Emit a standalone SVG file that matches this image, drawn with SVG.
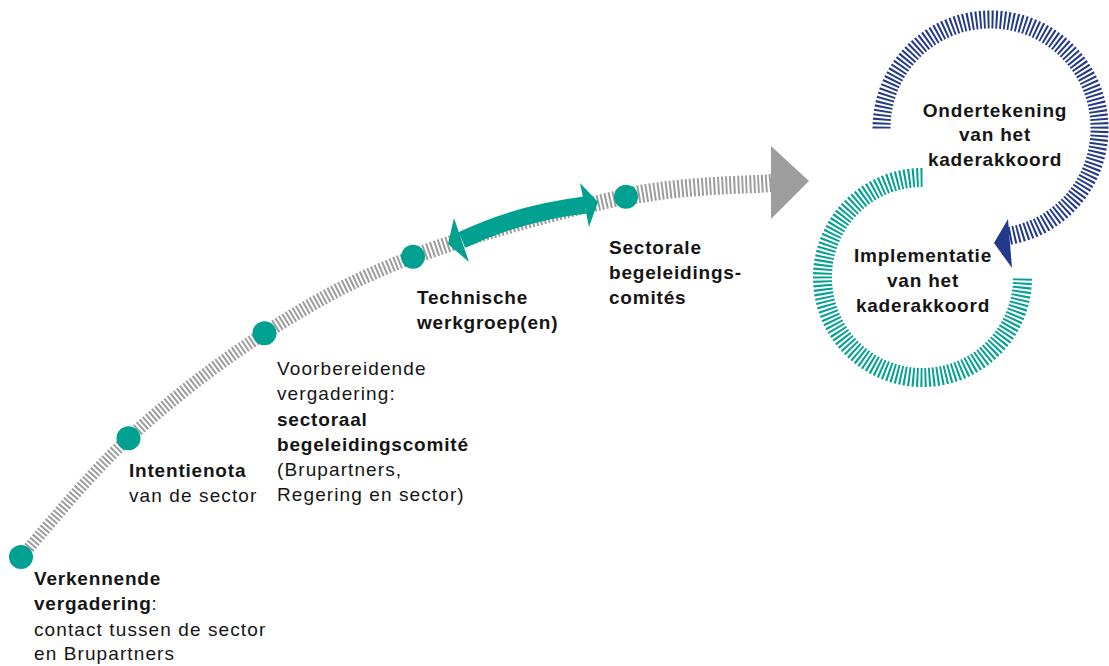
<svg xmlns="http://www.w3.org/2000/svg" width="1109" height="666" viewBox="0 0 1109 666">
<style>
.bg{fill:#ffffff}
.track{fill:none;stroke:#9d9d9d;stroke-dasharray:2 2}
.dot{fill:#00a190}
.t{font-family:"Liberation Sans",Arial,sans-serif;font-size:19px;fill:#151515;letter-spacing:1.1px}
.b{font-weight:700;letter-spacing:0.8px}
.c{text-anchor:middle}
.navy{fill:none;stroke:#233a8b;stroke-width:18;stroke-dasharray:2 2.1}
.teal{fill:none;stroke:#00a190;stroke-width:19;stroke-dasharray:2 2.1}
</style>
<rect class="bg" x="0" y="0" width="1109" height="666"/>
<g id="connectors">
<path class="track" stroke-width="12" d="M21,557 C38.9,537.2 87.9,475.6 128.5,438.3"/>
<path class="track" stroke-width="13" d="M128.5,438.3 C169.1,400.9 217.1,363.6 264.5,333.3"/>
<path class="track" stroke-width="14" d="M264.5,333.3 C311.9,303 352.75,279.5 413,256.7"/>
<path class="track" stroke-width="16" d="M413,256.7 C473.25,233.9 566.3,209 626,196.7"/>
<path class="track" stroke-width="18" d="M626,196.7 C685.7,184.4 746.8,185.3 772,183"/>
<polygon fill="#9d9d9d" points="771,146 809,181 771,219"/>
<path fill="none" stroke="#00a190" stroke-width="17" d="M462,240 Q517,213.5 585,205"/>
<polygon fill="#00a190" points="448,244 454,218 469,262"/>
<polygon fill="#00a190" points="598,202 580,183 589,227"/>
</g>
<g id="node-verkennende">
<circle class="dot" cx="21" cy="557" r="12"/>
<text class="t b" x="34" y="585">Verkennende</text>
<text class="t" x="34" y="610"><tspan class="b">vergadering</tspan>:</text>
<text class="t" x="34" y="636">contact tussen de sector</text>
<text class="t" x="34" y="660">en Brupartners</text>
</g>
<g id="node-intentienota">
<circle class="dot" cx="128.5" cy="438.3" r="12"/>
<text class="t b" x="129" y="477">Intentienota</text>
<text class="t" x="129" y="502">van de sector</text>
</g>
<g id="node-voorbereidende">
<circle class="dot" cx="264.5" cy="333.3" r="12"/>
<text class="t" x="277" y="375">Voorbereidende</text>
<text class="t" x="277" y="400">vergadering:</text>
<text class="t b" x="277" y="426">sectoraal</text>
<text class="t b" x="277" y="451">begeleidingscomité</text>
<text class="t" x="277" y="476">(Brupartners,</text>
<text class="t" x="277" y="501">Regering en sector)</text>
</g>
<g id="node-technische">
<circle class="dot" cx="413" cy="256.7" r="12"/>
<text class="t b" x="417" y="304">Technische</text>
<text class="t b" x="417" y="329">werkgroep(en)</text>
</g>
<g id="node-sectorale">
<circle class="dot" cx="626" cy="196.7" r="12"/>
<text class="t b" x="609" y="254">Sectorale</text>
<text class="t b" x="609" y="279">begeleidings-</text>
<text class="t b" x="609" y="304">comités</text>
</g>
<g id="node-implementatie">
<path class="teal" d="M922.5,177.5 A100,100 0 1 0 1022.5,277.5"/>
<text class="t b c" x="923" y="262">Implementatie</text>
<text class="t b c" x="923" y="287">van het</text>
<text class="t b c" x="923" y="312">kaderakkoord</text>
</g>
<g id="node-ondertekening">
<path class="navy" d="M881.5,128.5 A109,109 0 1 1 1009.4,235.8"/>
<polygon fill="#233a8b" points="994,243 1008,219 1012,268"/>
<text class="t b c" x="995" y="117">Ondertekening</text>
<text class="t b c" x="995" y="141">van het</text>
<text class="t b c" x="995" y="166">kaderakkoord</text>
</g>
</svg>
